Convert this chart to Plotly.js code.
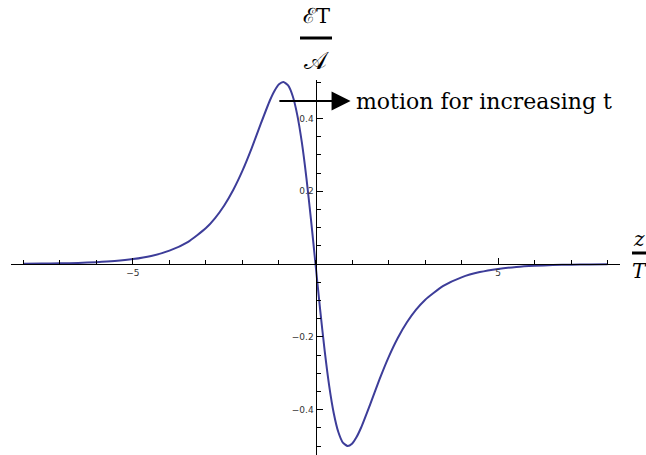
<!DOCTYPE html>
<html>
<head>
<meta charset="utf-8">
<script src="https://cdn.plot.ly/plotly-3.0.1.min.js"></script>
<style>
  html, body { margin: 0; padding: 0; background: #fff; }
  #chart { width: 646px; height: 455px; }
</style>
</head>
<body>
<div id="chart"></div>
<script>
// Position along the axis, z / T
const zOverT = [-8, -7.5, -7, -6.5, -6, -5.5, -5, -4.5, -4, -3.5, -3, -2.75, -2.5, -2.25, -2,
  -1.75, -1.5, -1.25, -1.125, -1, -0.88, -0.75, -0.625, -0.5, -0.375, -0.25, -0.125, 0,
  0.125, 0.25, 0.375, 0.5, 0.625, 0.75, 0.88, 1, 1.125, 1.25, 1.5, 1.75,
  2, 2.25, 2.5, 2.75, 3, 3.5, 4, 4.5, 5, 5.5, 6, 6.5, 7, 7.5, 8];

// Field strength, ET / A
const fieldET = [0.0007, 0.0011, 0.0018, 0.0030, 0.0050, 0.0082, 0.0135, 0.0222, 0.0366, 0.0602, 0.0988, 0.1263, 0.1609, 0.2039, 0.2563,
  0.3176, 0.3848, 0.4492, 0.4754, 0.4936, 0.5000, 0.4905, 0.4615, 0.4098, 0.3346, 0.2375, 0.1234, 0,
  -0.1234, -0.2375, -0.3346, -0.4098, -0.4615, -0.4905, -0.5000, -0.4936, -0.4754, -0.4492, -0.3848, -0.3176,
  -0.2563, -0.2039, -0.1609, -0.1263, -0.0988, -0.0602, -0.0366, -0.0222, -0.0135, -0.0082, -0.0050, -0.0030, -0.0018, -0.0011, -0.0007];

const xTickVals = [-5, 5];
const xTickText = ['\u22125', '5'];
const yTickVals = [-0.4, -0.2, 0.2, 0.4];
const yTickText = ['\u22120.4', '\u22120.2', '0.2', '0.4'];

const xRange = [-8.34, 8.34];
const yRange = [-0.5247, 0.5055];

// plot area in pixels
const W = 646, H = 455;
const M = { l: 11, r: 26, t: 80, b: 0 };
const pw = W - M.l - M.r, ph = H - M.t - M.b;
const px = v => (v - M.l) / pw;          // pixel x -> paper x
const py = v => (H - M.b - v) / ph;      // pixel y -> paper y

const curveColor = '#3d3d99';
const serif = 'DejaVu Serif, Liberation Serif, serif';
const tickFont = { family: 'DejaVu Sans, sans-serif', size: 9, color: '#333' };

const trace = {
  x: zOverT,
  y: fieldET,
  type: 'scatter',
  mode: 'lines',
  line: { color: curveColor, width: 2, shape: 'spline', smoothing: 0.6 },
  hoverinfo: 'skip'
};

const layout = {
  width: W, height: H,
  margin: M,
  paper_bgcolor: '#fff',
  plot_bgcolor: '#fff',
  showlegend: false,
  xaxis: {
    range: xRange,
    anchor: 'free',
    position: (0 - yRange[0]) / (yRange[1] - yRange[0]),
    showline: true, linecolor: '#000', linewidth: 1,
    showgrid: false, zeroline: false,
    tickmode: 'array', tickvals: xTickVals, ticktext: xTickText,
    ticks: 'inside', ticklen: 6, tickwidth: 1, tickcolor: '#000',
    minor: { tickmode: 'linear', tick0: 0, dtick: 1, ticks: 'inside', ticklen: 4, tickcolor: '#000', tickwidth: 1 },
    tickfont: tickFont,
    fixedrange: true
  },
  yaxis: {
    range: yRange,
    anchor: 'free',
    position: (0 - xRange[0]) / (xRange[1] - xRange[0]),
    showline: true, linecolor: '#000', linewidth: 1,
    showgrid: false, zeroline: false,
    tickmode: 'array', tickvals: yTickVals, ticktext: yTickText,
    ticks: 'inside', ticklen: 6, tickwidth: 1, tickcolor: '#000',
    minor: { tickmode: 'linear', tick0: 0, dtick: 0.05, ticks: 'inside', ticklen: 4, tickcolor: '#000', tickwidth: 1 },
    tickfont: tickFont,
    fixedrange: true
  },
  shapes: [
    // fraction bars of the axis labels
    { type: 'line', xref: 'paper', yref: 'paper', x0: px(300), x1: px(332), y0: py(38), y1: py(38),
      line: { color: '#000', width: 3 } },
    { type: 'line', xref: 'paper', yref: 'paper', x0: px(632), x1: px(646), y0: py(253), y1: py(253),
      line: { color: '#000', width: 3 } }
  ],
  annotations: [
    { xref: 'paper', yref: 'paper', x: px(316), y: py(16), text: '\u2130T', showarrow: false,
      font: { family: serif, size: 21, color: '#000' }, xanchor: 'center', yanchor: 'middle' },
    { xref: 'paper', yref: 'paper', x: px(316), y: py(61), text: '\uD835\uDC9C', showarrow: false,
      font: { family: serif, size: 24, color: '#000' }, xanchor: 'center', yanchor: 'middle' },
    { xref: 'paper', yref: 'paper', x: px(639), y: py(239), text: '<i>z</i>', showarrow: false,
      font: { family: serif, size: 20, color: '#000' }, xanchor: 'center', yanchor: 'middle' },
    { xref: 'paper', yref: 'paper', x: px(639), y: py(271), text: '<i>T</i>', showarrow: false,
      font: { family: serif, size: 20, color: '#000' }, xanchor: 'center', yanchor: 'middle' },
    // direction-of-motion arrow
    { xref: 'x', yref: 'y', axref: 'x', ayref: 'y',
      x: 0.96, y: 0.448, ax: -1.03, ay: 0.448,
      text: '', showarrow: true, arrowhead: 2, arrowsize: 1.9, arrowwidth: 2, arrowcolor: '#000' },
    { xref: 'paper', yref: 'paper', x: px(354), y: py(101), text: 'motion for increasing t', showarrow: false,
      font: { family: serif, size: 22, color: '#000' }, xanchor: 'left', yanchor: 'middle' }
  ]
};

Plotly.newPlot('chart', [trace], layout, { staticPlot: true, displayModeBar: false });
</script>
</body>
</html>
